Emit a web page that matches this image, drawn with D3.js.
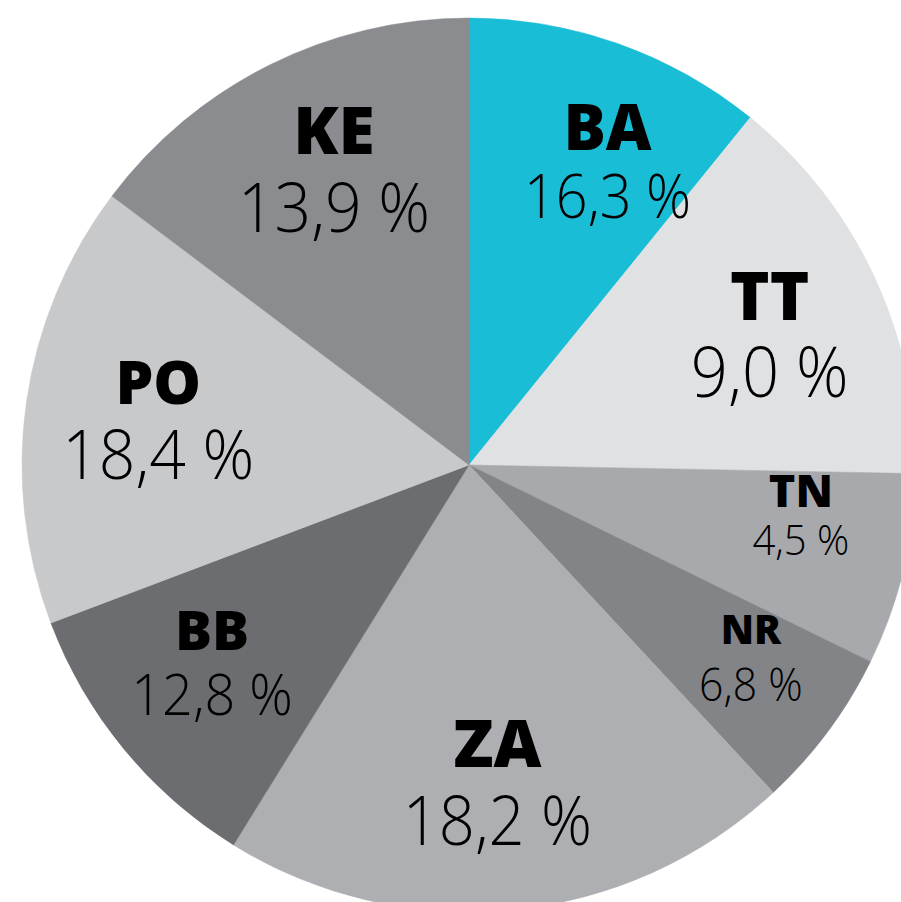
<!DOCTYPE html>
<html>
<head>
<meta charset="utf-8">
<script src="https://cdn.jsdelivr.net/npm/d3@7"></script>
<style>
    body { margin: 0; background: #fff; overflow: hidden; }
    .name { font-family: 'Open Sans', 'Lato', sans-serif; font-weight: 800; fill: #000; }
    .pct { font-family: 'Open Sans', 'Lato', sans-serif; font-weight: 350; fill: #000; }
</style>
</head>
<body>
<svg id="chart"></svg>
<script>
    // regions, clockwise from 12 o'clock
    const regions = ["BA", "TT", "TN", "NR", "ZA", "BB", "PO", "KE"];
    // slice sizes as drawn (degrees)
    const sliceSizes = [39.0, 52.1, 25.0, 21.0, 74.7, 37.5, 57.7, 53.0];
    // printed shares
    const shares = ["16,3", "9,0", "4,5", "6,8", "18,2", "12,8", "18,4", "13,9"];
    const colors = ["#19bdd6", "#e0e1e3", "#a8a9ac", "#838488", "#aeafb2", "#6c6d71", "#c8c9cb", "#8b8c90"];

    // label layout: nudge from centroid, font sizes, line gap
    const labelLayout = [
        { dx: 30, dy: -9, ns: 63, ps: 60, gap: 68 },
        { dx: 6, dy: -8, ns: 67, ps: 70, gap: 77 },
        { dx: 16, dy: -34, ns: 45, ps: 43, gap: 48 },
        { dx: 21, dy: -15, ns: 40, ps: 46, gap: 57 },
        { dx: -3, dy: -21, ns: 66, ps: 68, gap: 78 },
        { dx: -6, dy: -22, ns: 55, ps: 58, gap: 65 },
        { dx: 11, dy: -15, ns: 60, ps: 69, gap: 75 },
        { dx: 10, dy: -20, ns: 66, ps: 69, gap: 78 }
    ];

    const width = 901, height = 902;
    const cx = 469, cy = 465, radius = 447;
    const pctScale = 0.93;

    const svg = d3.select('#chart').attr('width', width).attr('height', height);
    const g = svg.append('g').attr('transform', `translate(${cx},${cy})`);

    const pie = d3.pie().sort(null).value(d => d.size);
    const data = regions.map((r, i) => ({ name: r, size: sliceSizes[i], share: shares[i], color: colors[i], lay: labelLayout[i] }));
    const arcs = pie(data);

    const arc = d3.arc().innerRadius(0).outerRadius(radius);
    const labelArc = d3.arc().innerRadius(325).outerRadius(325);

    g.selectAll('path.slice')
        .data(arcs)
        .enter().append('path')
        .attr('class', 'slice')
        .attr('d', arc)
        .attr('fill', d => d.data.color)
        .attr('stroke', d => d.data.color)
        .attr('stroke-width', 0.5);

    const labels = g.selectAll('g.label')
        .data(arcs)
        .enter().append('g')
        .attr('class', 'label')
        .attr('transform', d => {
            const c = labelArc.centroid(d);
            return `translate(${c[0] + d.data.lay.dx},${c[1] + d.data.lay.dy})`;
        });

    labels.append('text')
        .attr('class', 'name')
        .attr('text-anchor', 'middle')
        .style('font-size', d => d.data.lay.ns + 'px')
        .text(d => d.data.name);

    labels.append('text')
        .attr('class', 'pct')
        .attr('text-anchor', 'middle')
        .attr('transform', d => `translate(0,${d.data.lay.gap}) scale(${pctScale},1)`)
        .style('font-size', d => d.data.lay.ps + 'px')
        .text(d => d.data.share + ' %');
</script>
</body>
</html>
